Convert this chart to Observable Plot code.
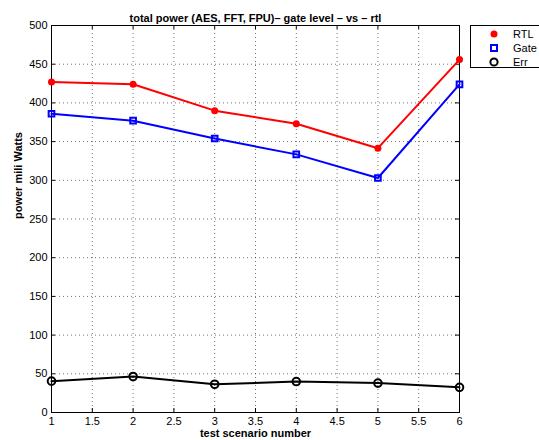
<!DOCTYPE html>
<html>
<head>
<meta charset="utf-8">
<script src="https://cdn.jsdelivr.net/npm/d3@7"></script>
<script src="https://cdn.jsdelivr.net/npm/@observablehq/plot@0.6"></script>
<style>
  html, body { margin: 0; padding: 0; background: #fff; }
  #wrap { position: relative; width: 539px; height: 440px; overflow: hidden; font-family: "Liberation Sans", Arial, sans-serif; }
  #legend { position: absolute; left: 470px; top: 25px; width: 90px; height: 43px; border: 1px solid #000; background: #fff; box-sizing: border-box; font-size: 11px; }
  #legend .row { position: absolute; left: 0; height: 14px; line-height: 14px; }
  #legend svg { position: absolute; left: 16px; top: 0; }
  #legend span { position: absolute; left: 42px; top: 0; white-space: nowrap; }
</style>
</head>
<body>
<div id="wrap"></div>
<script>
const scenarios = [1, 2, 3, 4, 5, 6];
const rtl  = [427, 424, 390, 373, 341.5, 456];
const gate = [386, 377, 354, 333.5, 303, 424];
const err  = [40.5, 46.5, 36.5, 40, 38, 32.5];
const xTicks = [1, 1.5, 2, 2.5, 3, 3.5, 4, 4.5, 5, 5.5, 6];
const yTicks = [0, 50, 100, 150, 200, 250, 300, 350, 400, 450, 500];
const seriesNames = ["RTL", "Gate", "Err"];
const titleText = "total power (AES, FFT, FPU)\u2013 gate level \u2013 vs \u2013 rtl";
const xLabel = "test scenario number";
const yLabel = "power mili Watts";

const rows = (vals) => scenarios.map((s, i) => ({x: s, y: vals[i]}));
const dRtl = rows(rtl), dGate = rows(gate), dErr = rows(err);

const W = 539, H = 440;
const mL = 51, mR = 80, mT = 25, mB = 28;
const fw = W - mL - mR, fh = H - mT - mB;
const tk = 4;

const chart = Plot.plot({
  width: W, height: H,
  marginLeft: mL, marginRight: mR, marginTop: mT, marginBottom: mB,
  style: {fontFamily: "Liberation Sans, Arial, sans-serif", fontSize: "11px", color: "#000", background: "#fff"},
  x: {domain: [1, 6]},
  y: {domain: [0, 500]},
  marks: [
    // dotted grid
    Plot.ruleX(xTicks, {x: d => d, stroke: "#000", strokeOpacity: 0.55, strokeWidth: 1, strokeDasharray: "1,3"}),
    Plot.ruleY(yTicks, {y: d => d, stroke: "#000", strokeOpacity: 0.55, strokeWidth: 1, strokeDasharray: "1,3"}),
    // inward ticks
    Plot.ruleX(xTicks, {x: d => d, insetTop: fh - tk, stroke: "#000"}),
    Plot.ruleX(xTicks, {x: d => d, insetBottom: fh - tk, stroke: "#000"}),
    Plot.ruleY(yTicks, {y: d => d, insetRight: fw - tk, stroke: "#000"}),
    Plot.ruleY(yTicks, {y: d => d, insetLeft: fw - tk, stroke: "#000"}),
    Plot.frame({stroke: "#000"}),
    Plot.axisX({ticks: xTicks, tickSize: 0, tickPadding: 5, tickFormat: d => String(d), label: null, fontSize: 11}),
    Plot.axisY({ticks: yTicks, tickSize: 0, tickPadding: 4, tickFormat: d => String(d), label: null, fontSize: 11}),
    // series
    Plot.line(dRtl, {x: "x", y: "y", stroke: "#ff0000", strokeWidth: 2}),
    Plot.dot(dRtl, {x: "x", y: "y", fill: "#ff0000", r: 3.5, symbol: "circle"}),
    Plot.line(dGate, {x: "x", y: "y", stroke: "#0000ff", strokeWidth: 2}),
    Plot.dot(dGate, {x: "x", y: "y", stroke: "#0000ff", fill: "none", strokeWidth: 2, r: 3.2, symbol: "square"}),
    Plot.line(dErr, {x: "x", y: "y", stroke: "#000", strokeWidth: 2}),
    Plot.dot(dErr, {x: "x", y: "y", stroke: "#000", fill: "none", strokeWidth: 2, r: 3.8, symbol: "circle"}),
    // texts
    Plot.text([titleText], {frameAnchor: "top", dy: -11, fontWeight: "bold", fontSize: 11, fill: "#000"}),
    Plot.text([xLabel], {frameAnchor: "bottom", dy: 24, fontWeight: "bold", fontSize: 11, fill: "#000"}),
    Plot.text([yLabel], {frameAnchor: "left", dx: -33, rotate: -90, fontWeight: "bold", fontSize: 11, fill: "#000"})
  ]
});
document.getElementById("wrap").appendChild(chart);

// legend
const legend = document.createElement("div");
legend.id = "legend";
const legendStyles = [
  {name: seriesNames[0], svg: '<circle cx="7" cy="7" r="3.5" fill="#ff0000"/>'},
  {name: seriesNames[1], svg: '<rect x="4" y="4" width="6" height="6" fill="none" stroke="#0000ff" stroke-width="2"/>'},
  {name: seriesNames[2], svg: '<circle cx="7" cy="7" r="3.6" fill="none" stroke="#000" stroke-width="2"/>'}
];
legendStyles.forEach((s, i) => {
  const row = document.createElement("div");
  row.className = "row";
  row.style.top = (1 + i * 14) + "px";
  row.style.width = "100%";
  row.innerHTML = `<svg width="14" height="14">${s.svg}</svg><span>${s.name}</span>`;
  legend.appendChild(row);
});
document.getElementById("wrap").appendChild(legend);
</script>
</body>
</html>
